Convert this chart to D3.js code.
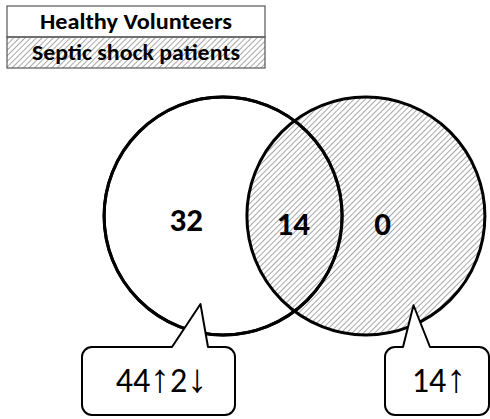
<!DOCTYPE html>
<html lang="en">
<head>
<meta charset="utf-8">
<title>Venn: healthy volunteers vs septic shock patients</title>
<script src="https://d3js.org/d3.v7.min.js"></script>
<style>
  body { margin: 0; background: #fff; }
  svg { display: block; }
  text { font-family: Carlito, "Open Sans", "Liberation Sans", sans-serif; }
</style>
</head>
<body>
<div id="chart"></div>
<script>
// sets and their legend labels
var setNames = ["Healthy Volunteers", "Septic shock patients"];
var setHatched = [false, true];
// counts per region: only first set, both, only second set
var regionNames = ["onlyHealthy", "both", "onlySeptic"];
var regionCounts = [32, 14, 0];
// callout labels (up / down counts) and the set they point at
var calloutSets = [0, 1];
var calloutText = ["44\u21912\u2193", "14\u2191"];

var width = 490, height = 419;
var svg = d3.select("#chart").append("svg")
  .attr("width", width)
  .attr("height", height);

// hatch pattern
var defs = svg.append("defs");
var pat = defs.append("pattern")
  .attr("id", "hatch")
  .attr("patternUnits", "userSpaceOnUse")
  .attr("width", 4)
  .attr("height", 4)
  .attr("patternTransform", "rotate(45)");
pat.append("line")
  .attr("x1", 0).attr("y1", 0)
  .attr("x2", 0).attr("y2", 4)
  .attr("stroke", "#8a8a8a")
  .attr("stroke-width", 1.5);

// legend
var legendY = d3.scaleBand().domain(setNames).range([6, 68]);
var legend = svg.append("g");
legend.selectAll("rect")
  .data(setNames)
  .join("rect")
  .attr("x", 7)
  .attr("y", function(d) { return legendY(d); })
  .attr("width", 258)
  .attr("height", legendY.bandwidth())
  .attr("fill", function(d, i) { return setHatched[i] ? "url(#hatch)" : "#fff"; })
  .attr("stroke", "#555")
  .attr("stroke-width", 1.2);
var legendWidths = [192, 208];
legend.selectAll("text")
  .data(setNames)
  .join("text")
  .attr("x", 136)
  .attr("y", function(d) { return legendY(d) + legendY.bandwidth() / 2 + 7.5; })
  .attr("text-anchor", "middle")
  .attr("font-size", 22)
  .attr("font-weight", "bold")
  .attr("textLength", function(d, i) { return legendWidths[i]; })
  .attr("lengthAdjust", "spacingAndGlyphs")
  .text(function(d) { return d; });

// venn geometry in radius units
var x = d3.scaleLinear().domain([-1, 1]).range([175.5, 413.5]);
var y = d3.scaleLinear().domain([-1, 1]).range([97, 335]);
var r = (x(1) - x(-1)) / 2;
var centers = [-0.6, 0.6];

var venn = svg.append("g");
// left circle, white fill
venn.append("circle")
  .attr("cx", x(centers[0])).attr("cy", y(0)).attr("r", r)
  .attr("fill", "#fff").attr("stroke", "#000").attr("stroke-width", 3);
// right circle, hatched
venn.append("circle")
  .attr("cx", x(centers[1])).attr("cy", y(0)).attr("r", r)
  .attr("fill", "url(#hatch)").attr("stroke", "#000").attr("stroke-width", 3);
// left outline again on top
venn.append("circle")
  .attr("cx", x(centers[0])).attr("cy", y(0)).attr("r", r)
  .attr("fill", "none").attr("stroke", "#000").attr("stroke-width", 3);

// region labels
var regionX = [-0.91, -0.01, 0.74];
var regionY = [0.13, 0.16, 0.16];
venn.selectAll("text.count")
  .data(regionCounts)
  .join("text")
  .attr("class", "count")
  .attr("x", function(d, i) { return x(regionX[i]); })
  .attr("y", function(d, i) { return y(regionY[i]); })
  .attr("text-anchor", "middle")
  .attr("font-size", 33)
  .attr("font-weight", "bold")
  .text(function(d) { return d; });

// callouts
var boxes = [
  { left: 82, right: 235, baseL: 172, baseR: 208, tip: [-0.79, 0.74], cx: 161.5 },
  { left: 385, right: 489, baseL: 403, baseR: 430, tip: [1.0, 0.75], cx: 439 }
];
var boxTop = 347, boxBottom = 415, cr = 10;

function calloutPath(b) {
  var p = d3.path();
  p.moveTo(b.left + cr, boxTop);
  p.lineTo(b.baseL, boxTop);
  p.lineTo(x(b.tip[0]), y(b.tip[1]));
  p.lineTo(b.baseR, boxTop);
  p.lineTo(b.right - cr, boxTop);
  p.arcTo(b.right, boxTop, b.right, boxTop + cr, cr);
  p.lineTo(b.right, boxBottom - cr);
  p.arcTo(b.right, boxBottom, b.right - cr, boxBottom, cr);
  p.lineTo(b.left + cr, boxBottom);
  p.arcTo(b.left, boxBottom, b.left, boxBottom - cr, cr);
  p.lineTo(b.left, boxTop + cr);
  p.arcTo(b.left, boxTop, b.left + cr, boxTop, cr);
  p.closePath();
  return p.toString();
}

var callouts = svg.append("g").selectAll("g")
  .data(calloutSets)
  .join("g");
callouts.append("path")
  .attr("d", function(d, i) { return calloutPath(boxes[i]); })
  .attr("fill", "#fff")
  .attr("stroke", "#000")
  .attr("stroke-width", 2)
  .attr("stroke-linejoin", "round");
var isArrow = function(c) { return c === "\u2191" || c === "\u2193"; };
callouts.append("text")
  .attr("x", function(d, i) { return boxes[i].cx; })
  .attr("y", 392)
  .attr("text-anchor", "middle")
  .attr("font-size", 34)
  .attr("fill", "#000")
  .selectAll("tspan")
  .data(function(d, i) { return Array.from(calloutText[i]); })
  .join("tspan")
  .attr("font-family", function(c) { return isArrow(c) ? "'Liberation Sans', 'DejaVu Sans'" : null; })
  .attr("font-size", function(c) { return isArrow(c) ? 40 : null; })
  .text(function(c) { return c; });
</script>
</body>
</html>
